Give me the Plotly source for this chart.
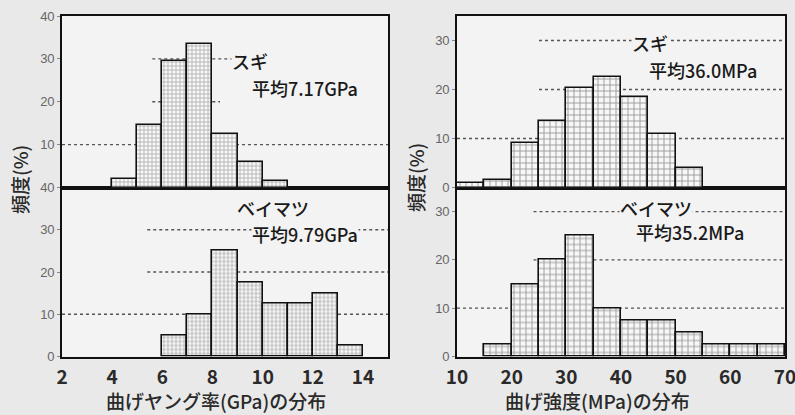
import plotly.graph_objects as go

# ---------------- data ----------------
# Young's modulus bins (GPa), width 1
sugi_E_left = [4, 5, 6, 7, 8, 9, 10]
sugi_E_freq = [2, 14.5, 29.5, 33.5, 12.5, 6, 1.5]
beimatsu_E_left = [6, 7, 8, 9, 10, 11, 12, 13]
beimatsu_E_freq = [5, 10, 25, 17.5, 12.5, 12.5, 15, 2.5]
E_width = 1

# Bending strength bins (MPa), width 5
sugi_S_left = [10, 15, 20, 25, 30, 35, 40, 45, 50]
sugi_S_freq = [1, 1.5, 9, 13.5, 20.3, 22.5, 18.5, 11, 4]
beimatsu_S_left = [15, 20, 25, 30, 35, 40, 45, 50, 55, 60, 65]
beimatsu_S_freq = [2.5, 15, 20, 25, 10, 7.5, 7.5, 5, 2.5, 2.5, 2.5]
S_width = 5

E_ticks = [2, 4, 6, 8, 10, 12, 14]
S_ticks = [10, 20, 30, 40, 50, 60, 70]

FONT = "Noto Sans CJK JP"
PLOT_BG = "#f3f3f3"
PAPER_BG = "#e9e9e9"
W, H = 795, 415


def bars(left, freq, width, xa, ya, psize):
    return go.Bar(
        x=[l + width / 2 for l in left], y=freq, width=width,
        xaxis=xa, yaxis=ya, showlegend=False,
        marker=dict(color="#f7f7f7",
                    line=dict(color="#111", width=1.6),
                    pattern=dict(shape="+", size=psize, solidity=0.3,
                                 fgcolor="#444", bgcolor="#f7f7f7")),
    )


fig = go.Figure()
fig.add_trace(bars(beimatsu_E_left, beimatsu_E_freq, E_width, "x", "y", 4))
fig.add_trace(bars(sugi_E_left, sugi_E_freq, E_width, "x2", "y2", 4))
fig.add_trace(bars(beimatsu_S_left, beimatsu_S_freq, S_width, "x3", "y3", 6))
fig.add_trace(bars(sugi_S_left, sugi_S_freq, S_width, "x4", "y4", 6))

LD = [62 / W, 388 / W]
RD = [457 / W, 785 / W]
TOP = [1 - 187.5 / H, 1 - 16 / H]
BOT = [1 - 356.5 / H, 1 - 187.5 / H]

ax_common = dict(showline=True, linecolor="#111", linewidth=1.6, mirror=True,
                 showgrid=False, zeroline=False, automargin=False)
xtick_font = dict(family=FONT, size=19, color="#2a2a2a", weight=600)
ytick_font = dict(family="Liberation Sans Narrow, Liberation Sans", size=13, color="#666")
ytick_common = dict(tickfont=ytick_font, ticks="outside", ticklen=3, tickcolor="#888")
xtick_common = dict(tickfont=xtick_font, ticks="", ticklabelstandoff=3,
                    ticklabeloverflow="allow")

fig.update_layout(
    width=W, height=H,
    margin=dict(l=0, r=0, t=0, b=0, autoexpand=False),
    paper_bgcolor=PAPER_BG, plot_bgcolor=PLOT_BG,
    bargap=0,
    xaxis=dict(domain=LD, range=[2, 15], anchor="y", tickvals=E_ticks,
               **xtick_common, **ax_common),
    xaxis2=dict(domain=LD, range=[2, 15], anchor="y2", matches="x",
                showticklabels=False, **ax_common),
    xaxis3=dict(domain=RD, range=[10, 70.02], anchor="y3", tickvals=S_ticks,
                **xtick_common, **ax_common),
    xaxis4=dict(domain=RD, range=[10, 70.02], anchor="y4", matches="x3",
                showticklabels=False, **ax_common),
    yaxis=dict(domain=BOT, range=[0, 40], anchor="x", tickvals=[0, 10, 20, 30, 40],
               **ytick_common, **ax_common),
    yaxis2=dict(domain=TOP, range=[0, 40], anchor="x2", tickvals=[10, 20, 30, 40],
                **ytick_common, **ax_common),
    yaxis3=dict(domain=BOT, range=[0, 35], anchor="x3", tickvals=[0, 10, 20, 30],
                **ytick_common, **ax_common),
    yaxis4=dict(domain=TOP, range=[0, 35], anchor="x4", tickvals=[0, 10, 20, 30],
                **ytick_common, **ax_common),
)

# dotted reference lines
dot = dict(color="#555", width=1.3, dash="dot")
lines = [
    ("x2", "y2", 2, 15, 10), ("x2", "y2", 5.6, 8.3, 20), ("x2", "y2", 5.6, 8.8, 30),
    ("x", "y", 2, 15, 10), ("x", "y", 5.4, 15, 20), ("x", "y", 5.4, 15, 30),
    ("x4", "y4", 10, 70, 10), ("x4", "y4", 25, 70, 20), ("x4", "y4", 25, 70, 30),
    ("x3", "y3", 10, 70, 10), ("x3", "y3", 24, 70, 20), ("x3", "y3", 24, 70, 30),
]
for xr, yr, x0, x1, yv in lines:
    fig.add_shape(type="line", xref=xr, yref=yr, x0=x0, x1=x1, y0=yv, y1=yv,
                  line=dot, layer="below")

tfont = dict(family=FONT, size=18, color="#1a1a1a", weight=500)
labels = [
    ("x2", "y2", 9.5, 29.4, "スギ"),
    ("x2", "y2", 11.7, 23.3, "平均7.17GPa"),
    ("x", "y", 10.4, 35.1, "ベイマツ"),
    ("x", "y", 11.7, 29.1, "平均9.79GPa"),
    ("x4", "y4", 45.3, 29.4, "スギ"),
    ("x4", "y4", 55.0, 23.9, "平均36.0MPa"),
    ("x3", "y3", 46.4, 30.8, "ベイマツ"),
    ("x3", "y3", 52.6, 25.7, "平均35.2MPa"),
]
for xr, yr, xv, yv, t in labels:
    fig.add_annotation(xref=xr, yref=yr, x=xv, y=yv, text=t, showarrow=False,
                       xanchor="center", yanchor="middle",
                       font=tfont, bgcolor=PLOT_BG, borderpad=0)

# axis titles
afont = dict(family=FONT, size=19, color="#2a2a2a", weight=500)
titles = [
    (216, 400, "曲げヤング率(GPa)の分布", 0),
    (597, 400, "曲げ強度(MPa)の分布", 0),
    (19, 180, "頻度(%)", -90),
    (415, 178, "頻度(%)", -90),
]
for px, py, t, ang in titles:
    fig.add_annotation(xref="paper", yref="paper", x=px / W, y=1 - py / H,
                       xanchor="center", yanchor="middle",
                       text=t, textangle=ang, showarrow=False, font=afont)

fig.write_html(
    "out.html",
    config={"displayModeBar": False},
    post_script="document.body.style.margin='0';"
                "document.body.style.background='" + PAPER_BG + "';",
)
